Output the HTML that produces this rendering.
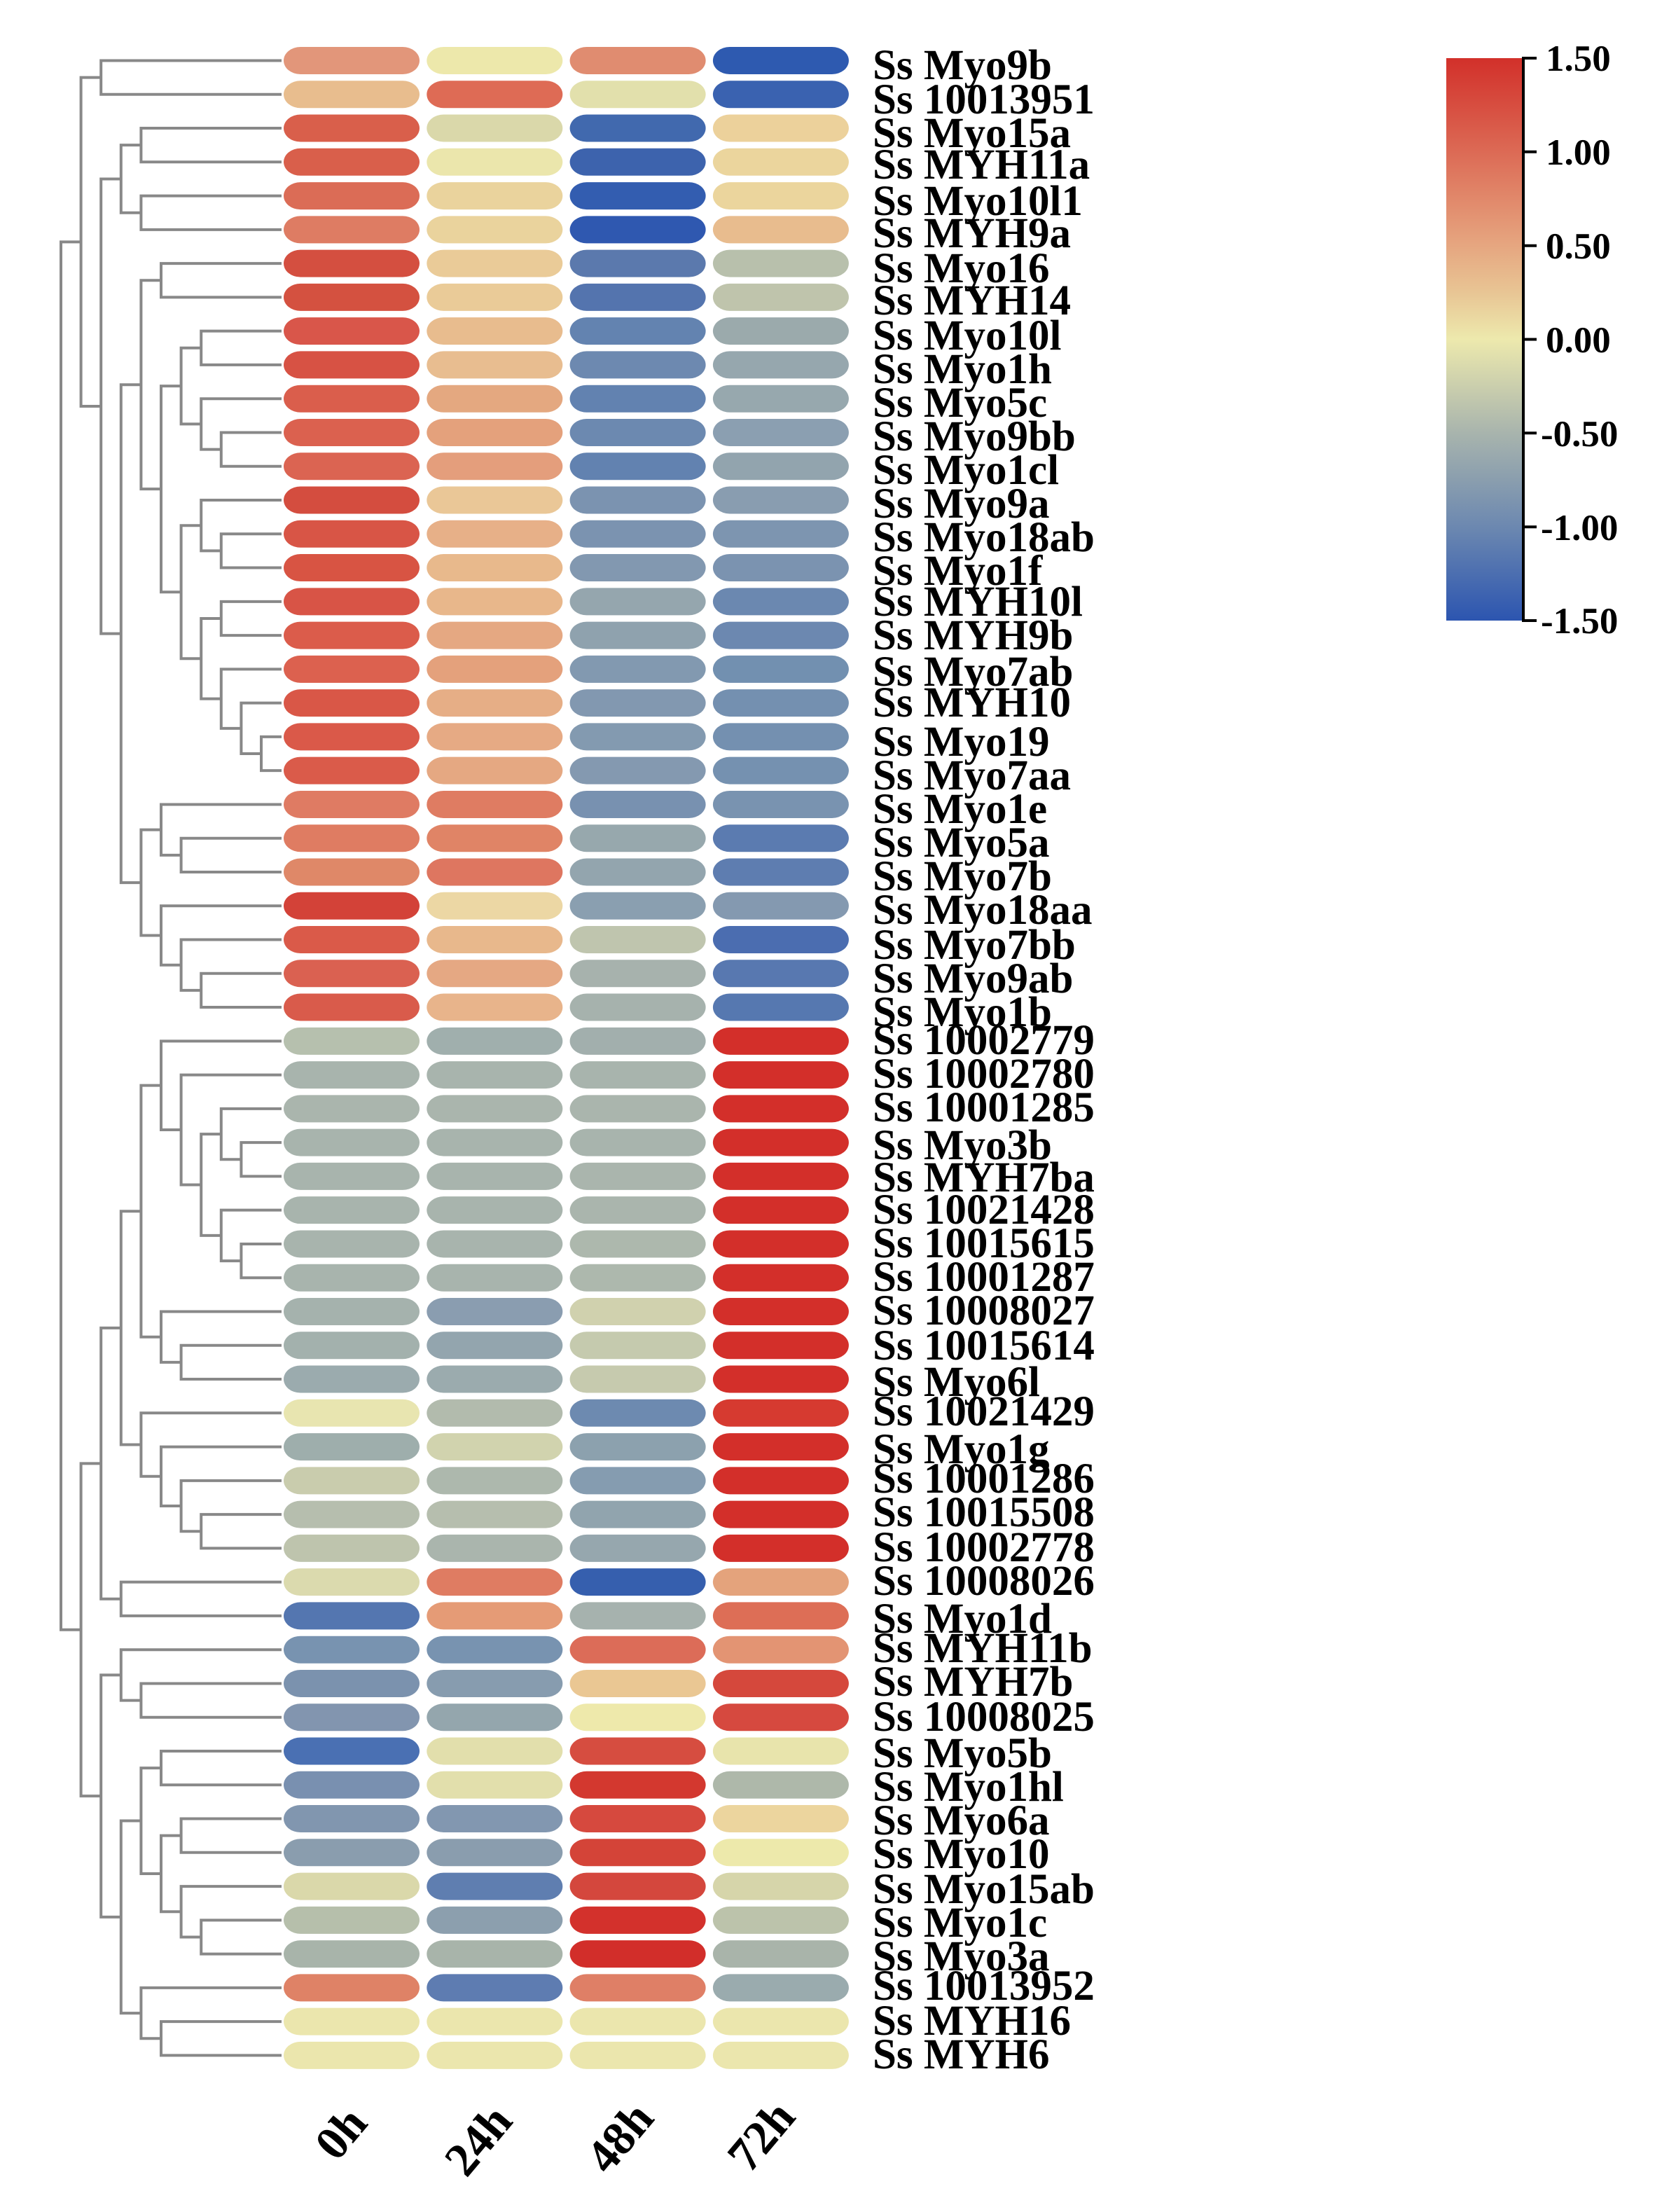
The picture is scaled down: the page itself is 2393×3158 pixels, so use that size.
<!DOCTYPE html>
<html><head><meta charset="utf-8"><style>
html,body{margin:0;padding:0;background:#fff;}
svg{display:block;}
text{font-family:"Liberation Serif",serif;font-weight:bold;fill:#000;}
</style></head><body>
<svg id="s" width="2393" height="3158" viewBox="0 0 2393 3158" xmlns="http://www.w3.org/2000/svg">
<defs>
<linearGradient id="cb" x1="0" y1="0" x2="0" y2="1">
<stop offset="0" stop-color="#d2302a"/>
<stop offset="0.1667" stop-color="#dc6a55"/>
<stop offset="0.3333" stop-color="#e6a680"/>
<stop offset="0.4167" stop-color="#e8c594"/>
<stop offset="0.5" stop-color="#ede9ad"/>
<stop offset="0.6667" stop-color="#a8b4ad"/>
<stop offset="0.8333" stop-color="#6c88b0"/>
<stop offset="1" stop-color="#2c55b0"/>
</linearGradient>
</defs>
<g id="dend" stroke="#888" stroke-width="4" fill="none" stroke-linecap="square"></g>
<g id="pills"></g>
<g id="labels" font-size="61" transform="translate(0,5)">
<text x="1246" y="108">Ss Myo9b</text>
<text x="1246" y="157">Ss 10013951</text>
<text x="1246" y="205">Ss Myo15a</text>
<text x="1246" y="250">Ss MYH11a</text>
<text x="1246" y="302">Ss Myo10l1</text>
<text x="1246" y="348">Ss MYH9a</text>
<text x="1246" y="398">Ss Myo16</text>
<text x="1246" y="444">Ss MYH14</text>
<text x="1246" y="494">Ss Myo10l</text>
<text x="1246" y="542">Ss Myo1h</text>
<text x="1246" y="590">Ss Myo5c</text>
<text x="1246" y="638">Ss Myo9bb</text>
<text x="1246" y="686">Ss Myo1cl</text>
<text x="1246" y="734">Ss Myo9a</text>
<text x="1246" y="782">Ss Myo18ab</text>
<text x="1246" y="830">Ss Myo1f</text>
<text x="1246" y="874">Ss MYH10l</text>
<text x="1246" y="922">Ss MYH9b</text>
<text x="1246" y="974">Ss Myo7ab</text>
<text x="1246" y="1018">Ss MYH10</text>
<text x="1246" y="1074">Ss Myo19</text>
<text x="1246" y="1122">Ss Myo7aa</text>
<text x="1246" y="1170">Ss Myo1e</text>
<text x="1246" y="1218">Ss Myo5a</text>
<text x="1246" y="1266">Ss Myo7b</text>
<text x="1246" y="1314">Ss Myo18aa</text>
<text x="1246" y="1364">Ss Myo7bb</text>
<text x="1246" y="1412">Ss Myo9ab</text>
<text x="1246" y="1460">Ss Myo1b</text>
<text x="1246" y="1500">Ss 10002779</text>
<text x="1246" y="1548">Ss 10002780</text>
<text x="1246" y="1596">Ss 10001285</text>
<text x="1246" y="1650">Ss Myo3b</text>
<text x="1246" y="1696">Ss MYH7ba</text>
<text x="1246" y="1742">Ss 10021428</text>
<text x="1246" y="1790">Ss 10015615</text>
<text x="1246" y="1838">Ss 10001287</text>
<text x="1246" y="1886">Ss 10008027</text>
<text x="1246" y="1936">Ss 10015614</text>
<text x="1246" y="1988">Ss Myo6l</text>
<text x="1246" y="2030">Ss 10021429</text>
<text x="1246" y="2084">Ss Myo1g</text>
<text x="1246" y="2126">Ss 10001286</text>
<text x="1246" y="2174">Ss 10015508</text>
<text x="1246" y="2224">Ss 10002778</text>
<text x="1246" y="2272">Ss 10008026</text>
<text x="1246" y="2326">Ss Myo1d</text>
<text x="1246" y="2368">Ss MYH11b</text>
<text x="1246" y="2416">Ss MYH7b</text>
<text x="1246" y="2466">Ss 10008025</text>
<text x="1246" y="2518">Ss Myo5b</text>
<text x="1246" y="2566">Ss Myo1hl</text>
<text x="1246" y="2614">Ss Myo6a</text>
<text x="1246" y="2662">Ss Myo10</text>
<text x="1246" y="2712">Ss Myo15ab</text>
<text x="1246" y="2760">Ss Myo1c</text>
<text x="1246" y="2808">Ss Myo3a</text>
<text x="1246" y="2850">Ss 10013952</text>
<text x="1246" y="2900">Ss MYH16</text>
<text x="1246" y="2948">Ss MYH6</text>
</g>
<g font-size="68">
<text transform="translate(504,3060) rotate(-50)" text-anchor="middle">0h</text>
<text transform="translate(700,3070) rotate(-50)" text-anchor="middle">24h</text>
<text transform="translate(902,3066) rotate(-50)" text-anchor="middle">48h</text>
<text transform="translate(1104,3064) rotate(-50)" text-anchor="middle">72h</text>
</g>
<rect x="2065" y="83" width="109" height="803" fill="url(#cb)"/>
<g stroke="#000" stroke-width="4">
<line x1="2175" y1="81" x2="2175" y2="888"/>
<line x1="2175" y1="83" x2="2194" y2="83"/>
<line x1="2175" y1="216.8" x2="2194" y2="216.8"/>
<line x1="2175" y1="350.7" x2="2194" y2="350.7"/>
<line x1="2175" y1="484.5" x2="2194" y2="484.5"/>
<line x1="2175" y1="618.3" x2="2194" y2="618.3"/>
<line x1="2175" y1="752.2" x2="2194" y2="752.2"/>
<line x1="2175" y1="886" x2="2194" y2="886"/>
</g>
<g font-size="53">
<text x="2207" y="101">1.50</text>
<text x="2207" y="235">1.00</text>
<text x="2207" y="369">0.50</text>
<text x="2207" y="503">0.00</text>
<text x="2200" y="637">-0.50</text>
<text x="2200" y="771">-1.00</text>
<text x="2200" y="904">-1.50</text>
</g>
</svg>
<script>
var C=[
["#e2967a","#ede8ab","#e08c70","#2e5ab0"],
["#e8bd8e","#de6b55","#e2e0ac","#3a62b0"],
["#d95f4b","#dad8aa","#4169ae","#ecd19b"],
["#d95f4b","#ebe6ac","#3d63ad","#ebd59d"],
["#db6c56","#ead39d","#335db0","#ebd59d"],
["#de7c63","#ead39d","#2f58b0","#e8bc8e"],
["#d44f40","#eacb98","#5b79ad","#b8c0ac"],
["#d45140","#eacb98","#5474ae","#bfc4ac"],
["#d9564a","#e8bc8e","#6383b0","#9baaac"],
["#d75244","#e8bd90","#6d89b0","#96a7ae"],
["#da5e4c","#e4a880","#6282b0","#97a8ae"],
["#db614f","#e4a17c","#6c89b0","#8b9fb1"],
["#db6452","#e49e7c","#6282b0","#92a4ae"],
["#d44d3f","#eac797","#7b93b0","#899db0"],
["#d85546","#e7b088","#7b93b0","#7d95b0"],
["#d85443","#e8b98c","#8298b0","#7b93b0"],
["#d85446","#e8b78b","#95a6ae","#6b88b0"],
["#db5c4b","#e5a882","#8fa2ae","#6c88b0"],
["#dc614f","#e4a17c","#8299b0","#7290b0"],
["#d95747","#e6ae86","#8298b0","#7490b0"],
["#da5949","#e6aa84","#839ab0","#7490b0"],
["#da5b4a","#e5a882","#8499b0","#7591b0"],
["#df7b63","#df7c62","#7891b0","#7993b0"],
["#df7c62","#e08466","#97a8ad","#5b7bb0"],
["#df8868","#de7660","#93a5ae","#5e7db0"],
["#d34238","#ecd7a4","#8a9fb0","#8499b0"],
["#da5a49","#e8b88c","#bfc5ae","#4b6db0"],
["#da6151","#e5a883","#a7b2ad","#5878b0"],
["#d95b4b","#e8b48b","#a6b2ad","#5678b0"],
["#b6c0ae","#a0afad","#a2afad","#d32f2a"],
["#a8b4ad","#a8b4ad","#a8b4ad","#d32f2a"],
["#aab5ad","#aab5ad","#aab5ad","#d32f2a"],
["#a8b4ad","#a8b4ad","#a8b4ad","#d32f2a"],
["#a8b4ad","#a8b4ad","#aab5ad","#d32f2a"],
["#a8b4ad","#a8b4ad","#aab5ad","#d32f2a"],
["#a8b4ad","#a8b4ad","#adb8ad","#d32f2a"],
["#a8b4ad","#a8b4ad","#adb8ad","#d32f2a"],
["#a5b2ad","#8a9db0","#d0d1ae","#d32f2a"],
["#a3b1ad","#93a5ae","#c5caae","#d32f2a"],
["#9babae","#9babae","#c6caae","#d32f2a"],
["#e8e5b0","#b2bbad","#6d8ab0","#d63a30"],
["#9eaeac","#d1d3ae","#8ca1ae","#d32f2a"],
["#c9ccad","#adb8ad","#859cb0","#d32f2a"],
["#b6beae","#b6beae","#91a4ae","#d32f2a"],
["#bec4ad","#aab5ad","#96a7ae","#d32f2a"],
["#dbdaae","#df7c62","#365fae","#e4a37c"],
["#5476b0","#e59b76","#a6b2ae","#dd6e56"],
["#7893b0","#7893b0","#dc6c58","#e39473"],
["#7b92ae","#879caf","#eac793","#d5483c"],
["#8295af","#94a6ad","#eee9ab","#d6493f"],
["#4a70b3","#e2dfac","#d64d40","#e8e4ac"],
["#7990b0","#e2dfac","#d3382f","#aeb8aa"],
["#8196af","#8297b0","#d6493e","#ecd59e"],
["#8a9dae","#8a9dae","#d44438","#ede9ab"],
["#dad8aa","#5f7eb0","#d4473d","#d6d5aa"],
["#b6bfab","#8c9fae","#d3312c","#bcc3ab"],
["#a8b4aa","#a8b4aa","#d22e2a","#a9b4aa"],
["#df8266","#5e7cb1","#df7f66","#9aabae"],
["#ebe6ad","#ebe6ad","#ebe6ad","#ebe6ad"],
["#ebe6ad","#ebe6ad","#ebe6ad","#ebe6ad"]];
var NS="http://www.w3.org/2000/svg";
function Y(i){return 86.5+48.27*i;}
var pg=document.getElementById("pills");
for(var i=0;i<60;i++)for(var j=0;j<4;j++){
 var r=document.createElementNS(NS,"rect");
 r.setAttribute("x",405+204.3*j);r.setAttribute("y",Y(i)-19.5);
 r.setAttribute("width",194);r.setAttribute("height",39);
 r.setAttribute("rx",24);r.setAttribute("ry",19.5);
 r.setAttribute("fill",C[i][j]);pg.appendChild(r);}
var A=[2,0,1];
var Cc=[3,[4,2,3],[4,4,5]];
var G=[6,[7,8,9],[7,10,[8,11,12]]];
var H=[6,[7,13,[8,14,15]],[7,[8,16,17],[8,18,[9,19,[10,20,21]]]]];
var F=[5,G,H];
var E=[4,[5,6,7],F];
var I=[4,[5,22,[6,23,24]],[5,25,[6,26,[7,27,28]]]];
var D=[3,E,I];
var B=[2,Cc,D];
var AB=[1,A,B];
var M=[4,[5,29,[6,30,[7,[8,31,[9,32,33]],[8,34,[9,35,36]]]]],[5,37,[6,38,39]]];
var Kt=[3,M,[4,40,[5,41,[6,42,[7,43,44]]]]];
var K=[2,Kt,[3,45,46]];
var N=[2,[3,47,[4,48,49]],[3,[4,[5,50,51],[5,[6,52,53],[6,54,[7,55,56]]]],[4,57,[5,58,59]]]];
var J=[1,K,N];
var root=[0,AB,J];
var dg=document.getElementById("dend");var d="";
function LX(l){return 87+28.6*l;}
function draw(n){
 if(typeof n==="number"){return {x:400,y:Y(n)};}
 var a=draw(n[1]),b=draw(n[2]),x=LX(n[0]);
 d+="M"+a.x+" "+a.y+"H"+x+"V"+b.y+"H"+b.x;
 return {x:x,y:(a.y+b.y)/2};}
draw(root);
var p=document.createElementNS(NS,"path");p.setAttribute("d",d);dg.appendChild(p);
</script>
</body></html>
